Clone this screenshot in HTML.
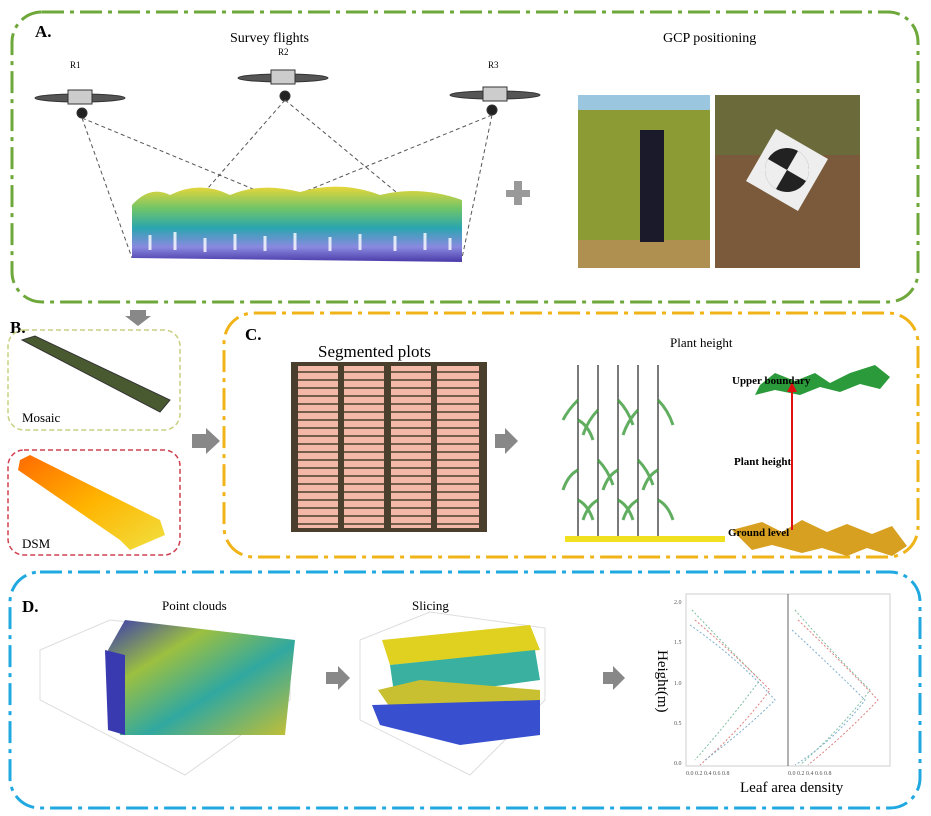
<!DOCTYPE html>
<html><head><meta charset="utf-8"><style>
body{margin:0;background:#fff}
svg{display:block}
text{font-family:"Liberation Serif",serif}
</style></head><body>
<svg width="931" height="816" viewBox="0 0 931 816" xmlns="http://www.w3.org/2000/svg">
<defs>
<linearGradient id="pc" x1="0" y1="0" x2="0" y2="1">
<stop offset="0" stop-color="#e8d63a"/><stop offset="0.3" stop-color="#6cc46a"/><stop offset="0.55" stop-color="#2aa5b0"/><stop offset="0.8" stop-color="#8a8ae0"/><stop offset="1" stop-color="#4a3aa8"/></linearGradient>
<linearGradient id="pc2" x1="0" y1="0" x2="1" y2="1">
<stop offset="0" stop-color="#3a3ab0"/><stop offset="0.3" stop-color="#9cc040"/><stop offset="0.6" stop-color="#30a8a0"/><stop offset="1" stop-color="#c8c030"/></linearGradient>
<linearGradient id="dsm" x1="0" y1="0" x2="1" y2="1"><stop offset="0" stop-color="#ff6a00"/><stop offset="0.5" stop-color="#ffb400"/><stop offset="1" stop-color="#f0e040"/></linearGradient>
</defs>

<!-- Panel A -->
<rect x="12" y="12" width="906" height="290" rx="30" fill="none" stroke="#6ea83a" stroke-width="3" stroke-dasharray="22,6,4,6"/>
<text x="35" y="37" font-size="17" font-weight="bold">A.</text>
<text x="230" y="42" font-size="14">Survey flights</text>
<text x="663" y="42" font-size="14">GCP positioning</text>
<text x="70" y="68" font-size="9">R1</text><text x="278" y="55" font-size="9">R2</text><text x="488" y="68" font-size="9">R3</text>
<g fill="#555" stroke="#333">
<ellipse cx="80" cy="98" rx="45" ry="4"/><rect x="68" y="90" width="24" height="14" fill="#ccc"/><circle cx="82" cy="113" r="5" fill="#222"/>
<ellipse cx="283" cy="78" rx="45" ry="4"/><rect x="271" y="70" width="24" height="14" fill="#ccc"/><circle cx="285" cy="96" r="5" fill="#222"/>
<ellipse cx="495" cy="95" rx="45" ry="4"/><rect x="483" y="87" width="24" height="14" fill="#ccc"/><circle cx="492" cy="110" r="5" fill="#222"/>
</g>
<g stroke="#555" stroke-dasharray="4,3" fill="none">
<path d="M82 118 L132 258 M82 118 L400 250 M285 100 L180 220 M285 100 L460 245 M492 115 L150 255 M492 115 L462 258"/>
</g>
<path d="M132 258 L132 205 Q150 185 170 195 Q200 180 230 195 Q260 182 300 192 Q340 180 380 195 Q420 185 462 200 L462 262 Z" fill="url(#pc)"/>
<g stroke="#fff" stroke-width="3" opacity="0.8">
<path d="M150 235 v15 M175 232 v18 M205 238 v14 M235 234 v16 M265 236 v15 M295 233 v17 M330 237 v14 M360 234 v16 M395 236 v15 M425 233 v17 M450 238 v12"/>
</g>
<rect x="506" y="190" width="24" height="7" fill="#999"/><rect x="514" y="181" width="8" height="24" fill="#999"/>
<rect x="578" y="95" width="132" height="173" fill="#b8b040"/>
<rect x="578" y="95" width="132" height="15" fill="#9ac6e0"/>
<rect x="578" y="110" width="132" height="130" fill="#6a8a2a" opacity="0.55"/>
<rect x="578" y="240" width="132" height="28" fill="#b09050"/>
<rect x="640" y="130" width="24" height="112" fill="#1a1a2a"/>
<rect x="715" y="95" width="145" height="173" fill="#7a5a3a"/>
<rect x="715" y="95" width="145" height="60" fill="#5a7a3a" opacity="0.5"/>
<g transform="rotate(30 787 170)"><rect x="757" y="140" width="60" height="60" fill="#eee"/><circle cx="787" cy="170" r="22" fill="#222"/><path d="M787 148 A22 22 0 0 1 809 170 L787 170Z M787 192 A22 22 0 0 1 765 170 L787 170Z" fill="#eee"/></g>

<path d="M130 310 h16 v6 h5 l-13 10 l-13 -10 h5z" fill="#888"/>

<!-- Panel B -->
<text x="10" y="333" font-size="17" font-weight="bold">B.</text>
<rect x="8" y="330" width="172" height="100" rx="16" fill="none" stroke="#c8d080" stroke-width="1.5" stroke-dasharray="5,3"/>
<path d="M22 340 L35 336 L170 400 L160 412 Z" fill="#4a5a30" stroke="#333"/>
<text x="22" y="422" font-size="13">Mosaic</text>
<rect x="8" y="450" width="172" height="105" rx="16" fill="none" stroke="#d04050" stroke-width="1.5" stroke-dasharray="5,3"/>
<path d="M20 460 L30 455 L160 520 L165 535 L130 550 L120 540 L18 470 Z" fill="url(#dsm)"/>
<text x="22" y="548" font-size="13">DSM</text>
<path d="M192 434 h14 v-6 l14 13 l-14 13 v-6 h-14z" fill="#888"/>

<!-- Panel C -->
<rect x="224" y="313" width="694" height="244" rx="30" fill="none" stroke="#f0b418" stroke-width="3" stroke-dasharray="22,6,4,6"/>
<text x="245" y="340" font-size="17" font-weight="bold">C.</text>
<text x="318" y="357" font-size="17">Segmented plots</text>
<rect x="291" y="362" width="196" height="170" fill="#4a3e2c"/>
<g fill="#f4b8a8">
<rect x="298" y="366" width="40" height="162"/><rect x="344" y="366" width="40" height="162"/><rect x="391" y="366" width="40" height="162"/><rect x="437" y="366" width="42" height="162"/>
</g>
<g stroke="#4a3e2c" stroke-width="1.5">
<path d="M291 372 H487 M291 380 H487 M291 388 H487 M291 396 H487 M291 404 H487 M291 412 H487 M291 420 H487 M291 428 H487 M291 436 H487 M291 444 H487 M291 452 H487 M291 460 H487 M291 468 H487 M291 476 H487 M291 484 H487 M291 492 H487 M291 500 H487 M291 508 H487 M291 516 H487 M291 524 H487"/>
</g>
<path d="M495 434 h10 v-6 l13 13 l-13 13 v-6 h-10z" fill="#888"/>
<text x="670" y="347" font-size="13">Plant height</text>
<g stroke="#222" stroke-width="1.2" fill="none">
<path d="M578 365 V538 M598 365 V538 M618 365 V538 M638 365 V538 M658 365 V538"/>
</g>
<g stroke="#3a9a3a" stroke-width="3" fill="none" opacity="0.8">
<path d="M578 400 q-10 10 -15 20 M578 420 q10 5 15 20 M598 410 q-10 10 -15 25 M618 400 q10 10 15 25 M638 410 q-10 10 -15 25 M658 400 q10 10 15 25 M578 470 q-10 5 -15 20 M598 460 q10 10 15 25 M618 470 q-10 5 -15 20 M638 460 q10 10 15 25 M658 470 q-10 5 -15 20 M578 500 q10 5 15 20 M618 500 q10 5 15 20 M658 500 q10 5 15 20 M598 500 q-10 5 -15 20 M638 500 q-10 5 -15 20"/>
</g>
<rect x="565" y="536" width="160" height="6" fill="#f0e020"/>
<path d="M760 385 l15 -12 l20 8 l20 -8 l15 10 l20 -10 l25 -8 l15 12 l-10 12 l-20 -5 l-20 8 l-20 -5 l-20 8 l-25 -5 l-20 5z" fill="#2a9a3a"/>
<path d="M732 530 l30 -8 l20 10 l20 -12 l25 12 l20 -8 l25 10 l20 -8 l15 20 l-15 10 l-25 -8 l-20 8 l-25 -8 l-20 5 l-30 -8 l-20 5z" fill="#d8a020"/>
<path d="M792 530 V390" stroke="#e01010" stroke-width="2"/><path d="M787 392 l5 -10 l5 10z" fill="#e01010"/>
<text x="732" y="384" font-size="11" font-weight="bold">Upper boundary</text>
<text x="734" y="465" font-size="11" font-weight="bold">Plant height</text>
<text x="728" y="536" font-size="11" font-weight="bold">Ground level</text>

<!-- Panel D -->
<rect x="10" y="572" width="910" height="236" rx="30" fill="none" stroke="#20a8e0" stroke-width="3" stroke-dasharray="22,6,4,6"/>
<text x="22" y="612" font-size="17" font-weight="bold">D.</text>
<text x="162" y="610" font-size="13">Point clouds</text>
<text x="412" y="610" font-size="13">Slicing</text>
<g stroke="#ddd" fill="none"><path d="M40 650 L110 620 L290 640 L290 700 L185 775 L40 700 Z"/><path d="M360 640 L430 612 L545 628 L545 700 L470 775 L360 720 Z"/></g>
<path d="M108 650 L125 620 L295 640 L285 735 L120 735 Z" fill="url(#pc2)"/>
<path d="M105 650 L125 655 L125 735 L108 730 Z" fill="#3a3ab0"/>
<path d="M382 640 L530 625 L540 650 L390 665 Z" fill="#e0d020"/>
<path d="M390 665 L535 650 L540 680 L395 700 Z" fill="#3ab0a0"/>
<path d="M378 690 L420 680 L540 690 L540 720 L400 722 Z" fill="#c8c030"/>
<path d="M372 705 L540 700 L540 735 L460 745 L380 725 Z" fill="#3850d0"/>
<path d="M326 672 h12 v-6 l12 12 l-12 12 v-6 h-12z" fill="#888"/>
<path d="M603 672 h10 v-6 l12 12 l-12 12 v-6 h-10z" fill="#888"/>
<rect x="686" y="594" width="102" height="172" fill="none" stroke="#ccc"/>
<rect x="788" y="594" width="102" height="172" fill="none" stroke="#ccc"/>
<line x1="788" y1="594" x2="788" y2="766" stroke="#666"/>
<g font-size="6" fill="#555" font-family="Liberation Sans">
<text x="674" y="604">2.0</text><text x="674" y="644">1.5</text><text x="674" y="685">1.0</text><text x="674" y="725">0.5</text><text x="674" y="765">0.0</text>
<text x="686" y="775">0.0 0.2 0.4 0.6 0.8</text><text x="788" y="775">0.0 0.2 0.4 0.6 0.8</text>
</g>
<g fill="none" stroke-dasharray="2,2" stroke-width="1">
<path d="M692 610 Q720 640 760 680 Q730 720 695 760" stroke="#80c0a0"/>
<path d="M695 620 Q730 650 770 690 Q740 730 700 765" stroke="#e08080"/>
<path d="M690 625 Q740 660 775 700 Q745 730 705 760" stroke="#80b0d0"/>
<path d="M795 610 Q830 650 870 690 Q840 730 800 765" stroke="#80c0a0"/>
<path d="M798 620 Q840 660 878 700 Q845 735 808 765" stroke="#e08080"/>
<path d="M792 630 Q835 670 865 700 Q835 740 795 765" stroke="#80b0d0"/>
</g>
<text transform="translate(658 650) rotate(90)" font-size="15">Height(m)</text>
<text x="740" y="792" font-size="15">Leaf area density</text>
</svg>
</body></html>
